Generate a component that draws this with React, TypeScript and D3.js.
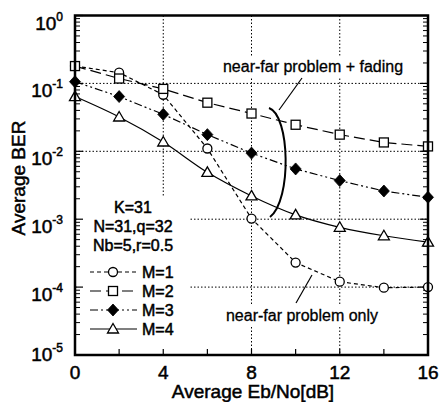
import React from "react";
import * as d3 from "d3";

const xValues = [0, 2, 4, 6, 8, 10, 12, 14, 16];
const berM1 = [0.18, 0.144, 0.068, 0.011, 0.00102, 0.00023, 0.00012, 0.000098, 0.0001];
const berM2 = [0.18, 0.118, 0.083, 0.052, 0.036, 0.0246, 0.0176, 0.0135, 0.0118];
const berM3 = [0.106, 0.064, 0.035, 0.0176, 0.0094, 0.0055, 0.0037, 0.0026, 0.0021];
const berM4 = [0.064, 0.032, 0.0137, 0.0049, 0.0022, 0.00116, 0.00076, 0.00057, 0.00046];
const seriesNames = ["M=1", "M=2", "M=3", "M=4"];
const xTickLabels = [0, 4, 8, 12, 16];
const xMinorTicks = [2, 4, 6, 8, 10, 12, 14];
const yDecades = [0, -1, -2, -3, -4, -5];
const paramLines = ["K=31", "N=31,q=32", "Nb=5,r=0.5"];
const annotFading = "near-far problem + fading";
const annotOnly = "near-far problem only";

const W = 443, H = 402;
const L = 75, R = 428, T = 15.5, B = 355;
const FONT = "'Liberation Sans', Arial, Helvetica, sans-serif";

const dashes = ["4,3", "11,5", "8,3,2,3,2,3", ""];
const markers = ["circle", "square", "diamond", "triangle"];

function Marker({ type, x, y }: { type: string; x: number; y: number }) {
  const sw = 1.3;
  if (type === "circle") return <circle cx={x} cy={y} r={4.5} fill="#fff" stroke="#000" strokeWidth={sw} />;
  if (type === "square") return <rect x={x - 4.5} y={y - 4.5} width={9} height={9} fill="#fff" stroke="#000" strokeWidth={sw} />;
  if (type === "diamond") return <path d={`M${x},${y - 6}L${x + 5.5},${y}L${x},${y + 6}L${x - 5.5},${y}Z`} fill="#000" stroke="#000" strokeWidth={0.8} />;
  return <path d={`M${x},${y - 5.5}L${x + 5.5},${y + 4}L${x - 5.5},${y + 4}Z`} fill="#fff" stroke="#000" strokeWidth={sw} />;
}

export default function App() {
  const x = d3.scaleLinear().domain([0, 16]).range([L, R]);
  const y = d3.scaleLog().domain([1e-5, 1]).range([B, T]);
  const allSeries = [berM1, berM2, berM3, berM4];

  const lineGen = (curve: any) =>
    d3.line<number>().x((_, i) => x(xValues[i])).y((d) => y(d)).curve(curve);

  const minorY: number[] = [];
  for (let e = -5; e < 0; e++) for (let m = 2; m <= 9; m++) minorY.push(m * Math.pow(10, e));

  const legendY = [272, 291, 310, 329];
  const gridDash = "1.5,2";
  const heavy = { stroke: "#000", strokeWidth: 0.5 };

  return (
    <svg width={W} height={H} style={{ position: "absolute", left: 0, top: 0, background: "#fff" }} fontFamily={FONT}>
      <rect width={W} height={H} fill="#fff" />
      {/* grid */}
      {[4, 8, 12].map((v) => (
        <line key={"gx" + v} x1={x(v)} x2={x(v)} y1={T} y2={B} stroke="#000" strokeWidth={1} strokeDasharray={gridDash} />
      ))}
      {[-1, -2, -3, -4].map((e) => (
        <line key={"gy" + e} x1={L} x2={R} y1={y(Math.pow(10, e))} y2={y(Math.pow(10, e))} stroke="#000" strokeWidth={1} strokeDasharray={gridDash} />
      ))}
      {/* white boxes behind annotations */}
      <rect x={L + 2} y={196} width={113} height={157} fill="#fff" />
      <rect x={214} y={56} width={198} height={21} fill="#fff" />
      <rect x={218} y={304} width={168} height={22} fill="#fff" />

      {/* ticks */}
      {minorY.map((v, i) => (
        <g key={"my" + i}>
          <line x1={L} x2={L + 5} y1={y(v)} y2={y(v)} stroke="#000" strokeWidth={1} />
          <line x1={R} x2={R - 5} y1={y(v)} y2={y(v)} stroke="#000" strokeWidth={1} />
        </g>
      ))}
      {yDecades.map((e) => (
        <g key={"My" + e}>
          <line x1={L} x2={L + 8} y1={y(Math.pow(10, e))} y2={y(Math.pow(10, e))} stroke="#000" strokeWidth={1.2} />
          <line x1={R} x2={R - 8} y1={y(Math.pow(10, e))} y2={y(Math.pow(10, e))} stroke="#000" strokeWidth={1.2} />
        </g>
      ))}
      {xMinorTicks.map((v) => (
        <line key={"mx" + v} x1={x(v)} x2={x(v)} y1={B} y2={B - 6} stroke="#000" strokeWidth={1.2} />
      ))}

      {/* series */}
      {allSeries.map((s, si) => (
        <path key={"s" + si} d={lineGen(si === 3 ? d3.curveMonotoneX : d3.curveLinear)(s) || ""} fill="none" stroke="#000" strokeWidth={1.2} strokeDasharray={dashes[si]} />
      ))}
      {allSeries.map((s, si) => s.map((v, i) => <Marker key={"m" + si + "-" + i} type={markers[si]} x={x(xValues[i])} y={y(v)} />))}

      {/* frame */}
      <rect x={L} y={T} width={R - L} height={B - T} fill="none" stroke="#000" strokeWidth={2.5} />

      {/* y tick labels */}
      {yDecades.map((e) => (
        <text key={"yl" + e} x={L - 12} y={y(Math.pow(10, e)) + (e === -5 ? 6 : 14)} textAnchor="end" fontSize={19} {...heavy}>
          10
          <tspan dy={-9} fontSize={12}>{e}</tspan>
        </text>
      ))}
      {/* x tick labels */}
      {xTickLabels.map((v) => (
        <text key={"xl" + v} x={x(v)} y={379} textAnchor="middle" fontSize={19} {...heavy}>{v}</text>
      ))}
      {/* axis titles */}
      <text x={253} y={398} textAnchor="middle" fontSize={19} {...heavy}>Average Eb/No[dB]</text>
      <text transform={`translate(25,178) rotate(-90)`} textAnchor="middle" fontSize={19} {...heavy}>Average BER</text>

      {/* parameters */}
      {paramLines.map((t, i) => (
        <text key={"p" + i} x={133} y={213 + i * 19} textAnchor="middle" fontSize={16} {...heavy}>{t}</text>
      ))}
      {/* legend */}
      {seriesNames.map((n, i) => (
        <g key={"lg" + i}>
          <line x1={90} x2={137} y1={legendY[i]} y2={legendY[i]} stroke="#000" strokeWidth={1.2} strokeDasharray={dashes[i]} />
          <Marker type={markers[i]} x={113} y={legendY[i]} />
          <text x={142} y={legendY[i] + 6} fontSize={16} {...heavy}>{n}</text>
        </g>
      ))}

      {/* annotations */}
      <text x={313} y={72} textAnchor="middle" fontSize={16} stroke="#000" strokeWidth={0.3}>{annotFading}</text>
      <line x1={279} y1={110} x2={302} y2={78} stroke="#000" strokeWidth={1.2} />
      <path d="M269,108 C290,115 292,200 270,217" fill="none" stroke="#000" strokeWidth={2} />
      <text x={302} y={321} textAnchor="middle" fontSize={16} stroke="#000" strokeWidth={0.3}>{annotOnly}</text>
      <line x1={296} y1={303} x2={312} y2={275} stroke="#000" strokeWidth={1.2} />
    </svg>
  );
}
